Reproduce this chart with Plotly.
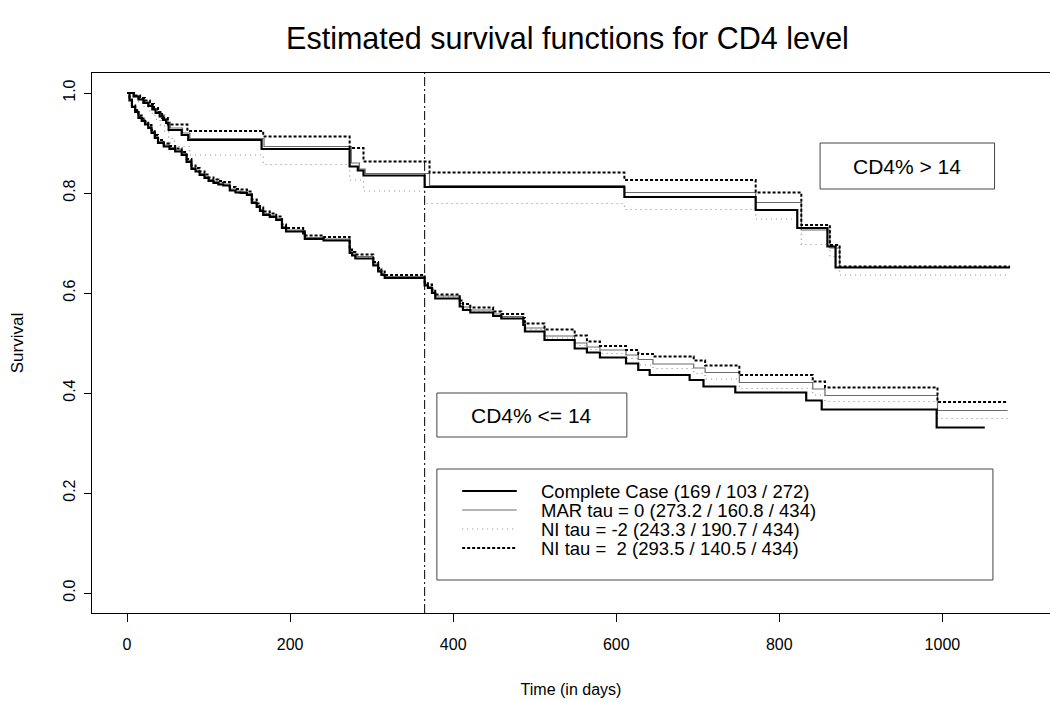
import plotly.graph_objects as go

# ---------------- data ----------------
# CD4% > 14 group (upper curves)
t_hi_cc = [0, 8, 14, 20, 26, 31, 35, 40, 44, 48, 51, 67, 75, 165, 273, 283, 290, 365, 610, 771, 822, 859, 869, 1083]
s_hi_cc = [1.0, 0.993, 0.987, 0.98, 0.974, 0.967, 0.96, 0.953, 0.946, 0.94, 0.926, 0.916, 0.906, 0.888, 0.853, 0.845, 0.835, 0.812, 0.792, 0.766, 0.73, 0.693, 0.651, 0.651]

t_hi_mar = [0, 9, 15, 21, 27, 32, 37, 42, 46, 50, 53, 68, 77, 168, 275, 285, 292, 371, 610, 771, 827, 862, 874, 1083]
s_hi_mar = [1.0, 0.994, 0.988, 0.982, 0.976, 0.969, 0.962, 0.956, 0.949, 0.942, 0.93, 0.92, 0.909, 0.893, 0.86, 0.848, 0.839, 0.815, 0.801, 0.781, 0.726, 0.69, 0.651, 0.651]

t_hi_m2 = [0, 8, 14, 20, 26, 31, 36, 41, 46, 51, 58, 77, 167, 273, 290, 365, 610, 771, 827, 862, 874, 1083]
s_hi_m2 = [1.0, 0.99, 0.982, 0.973, 0.964, 0.955, 0.945, 0.935, 0.923, 0.909, 0.893, 0.876, 0.857, 0.826, 0.804, 0.779, 0.767, 0.748, 0.697, 0.673, 0.636, 0.636]

t_hi_p2 = [0, 10, 16, 22, 28, 33, 38, 43, 50, 74, 167, 273, 290, 371, 610, 771, 827, 862, 874, 1083]
s_hi_p2 = [1.0, 0.995, 0.99, 0.985, 0.978, 0.97, 0.962, 0.95, 0.937, 0.924, 0.913, 0.89, 0.863, 0.841, 0.826, 0.801, 0.736, 0.696, 0.653, 0.653]

# CD4% <= 14 group (lower curves)
t_lo_cc = [0, 3, 6, 10, 14, 18, 22, 26, 30, 34, 38, 45, 52, 59, 67, 73, 79, 84, 89, 95, 100, 106, 112, 118,
           126, 133, 139, 147, 153, 159, 163, 167, 175, 183, 190, 195, 216, 218, 241, 273, 276, 280, 302,
           308, 312, 316, 365, 369, 374, 378, 408, 412, 421, 449, 459, 486, 488, 512, 549, 564, 580, 612,
           627, 641, 690, 707, 746, 833, 852, 993, 1052]
s_lo_cc = [1.0, 0.985, 0.972, 0.962, 0.95, 0.944, 0.937, 0.93, 0.92, 0.91, 0.9, 0.893, 0.888, 0.883, 0.876,
           0.862, 0.848, 0.843, 0.836, 0.83, 0.824, 0.82, 0.817, 0.815, 0.805, 0.801, 0.8, 0.796, 0.78,
           0.772, 0.764, 0.756, 0.752, 0.746, 0.73, 0.723, 0.719, 0.708, 0.705, 0.68, 0.675, 0.669, 0.655,
           0.643, 0.636, 0.63, 0.615, 0.61, 0.6, 0.589, 0.573, 0.566, 0.561, 0.554, 0.549, 0.536, 0.523,
           0.506, 0.489, 0.481, 0.471, 0.459, 0.446, 0.436, 0.426, 0.413, 0.401, 0.385, 0.367, 0.331, 0.331]

t_lo_mar = [0, 3, 6, 10, 14, 18, 22, 26, 30, 34, 38, 45, 52, 59, 67, 73, 79, 84, 89, 95, 100, 106, 112, 118,
            126, 133, 139, 147, 153, 159, 163, 167, 175, 183, 190, 195, 216, 218, 241, 273, 276, 280, 302,
            308, 312, 316, 365, 369, 374, 378, 408, 412, 421, 449, 459, 486, 488, 512, 549, 564, 580, 612,
            627, 645, 695, 709, 751, 841, 856, 994, 1080]
s_lo_mar = [1.0, 0.986, 0.974, 0.964, 0.953, 0.947, 0.94, 0.933, 0.923, 0.913, 0.903, 0.896, 0.891, 0.886,
            0.879, 0.865, 0.851, 0.846, 0.839, 0.833, 0.827, 0.823, 0.82, 0.818, 0.808, 0.804, 0.803, 0.799,
            0.783, 0.775, 0.767, 0.759, 0.755, 0.749, 0.733, 0.726, 0.722, 0.711, 0.708, 0.683, 0.678, 0.673,
            0.658, 0.646, 0.639, 0.633, 0.618, 0.613, 0.604, 0.594, 0.579, 0.572, 0.566, 0.558, 0.553, 0.545,
            0.53, 0.514, 0.5, 0.492, 0.486, 0.476, 0.467, 0.458, 0.45, 0.441, 0.421, 0.408, 0.395, 0.365, 0.365]

t_lo_m2 = [0, 3, 6, 10, 14, 18, 22, 26, 30, 34, 38, 45, 52, 59, 67, 73, 79, 84, 89, 95, 100, 106, 112, 118,
           126, 133, 139, 147, 153, 159, 163, 167, 175, 183, 190, 195, 216, 218, 241, 273, 276, 280, 302,
           308, 312, 316, 365, 369, 374, 378, 408, 412, 421, 449, 459, 486, 488, 512, 549, 564, 580, 612,
           627, 645, 695, 709, 751, 841, 856, 994, 1080]
s_lo_m2 = [1.0, 0.985, 0.973, 0.963, 0.952, 0.946, 0.939, 0.932, 0.922, 0.912, 0.902, 0.895, 0.89, 0.885,
           0.878, 0.864, 0.85, 0.845, 0.838, 0.832, 0.826, 0.822, 0.819, 0.817, 0.807, 0.803, 0.802, 0.798,
           0.782, 0.774, 0.766, 0.758, 0.754, 0.748, 0.732, 0.725, 0.721, 0.71, 0.707, 0.682, 0.677, 0.672,
           0.657, 0.645, 0.638, 0.632, 0.617, 0.612, 0.602, 0.592, 0.576, 0.569, 0.563, 0.555, 0.55, 0.54,
           0.527, 0.51, 0.495, 0.487, 0.479, 0.469, 0.456, 0.449, 0.439, 0.428, 0.409, 0.396, 0.383, 0.349, 0.349]

t_lo_p2 = [0, 3, 6, 10, 14, 18, 22, 26, 30, 34, 38, 45, 52, 59, 67, 73, 79, 84, 89, 95, 100, 106, 112, 118,
           126, 133, 139, 147, 153, 159, 163, 167, 175, 183, 190, 195, 216, 218, 241, 273, 276, 280, 302,
           308, 312, 316, 365, 369, 374, 378, 408, 412, 421, 449, 459, 486, 488, 512, 549, 564, 580, 612,
           627, 645, 695, 709, 751, 841, 856, 994, 1080]
s_lo_p2 = [1.0, 0.987, 0.975, 0.966, 0.955, 0.949, 0.943, 0.936, 0.926, 0.916, 0.906, 0.899, 0.894, 0.889,
           0.882, 0.868, 0.855, 0.85, 0.843, 0.837, 0.831, 0.827, 0.824, 0.822, 0.812, 0.808, 0.807, 0.803,
           0.787, 0.779, 0.771, 0.763, 0.759, 0.753, 0.737, 0.73, 0.726, 0.715, 0.712, 0.687, 0.682, 0.677,
           0.662, 0.65, 0.643, 0.636, 0.622, 0.617, 0.607, 0.597, 0.585, 0.578, 0.571, 0.563, 0.558, 0.55,
           0.539, 0.527, 0.515, 0.503, 0.494, 0.486, 0.478, 0.473, 0.465, 0.455, 0.436, 0.423, 0.411, 0.382, 0.382]

series_names = [
    "Complete Case (169 / 103 / 272)",
    "MAR tau = 0 (273.2 / 160.8 / 434)",
    "NI tau = -2 (243.3 / 190.7 / 434)",
    "NI tau =  2 (293.5 / 140.5 / 434)",
]
x_ticks = [0, 200, 400, 600, 800, 1000]
y_ticks = [0.0, 0.2, 0.4, 0.6, 0.8, 1.0]
cutoff_day = 365

# ---------------- styles ----------------
styles = [
    dict(color="black", width=2.2, dash="solid"),
    dict(color="#6a6a6a", width=1.2, dash="solid"),
    dict(color="#8a8a8a", width=1.2, dash="1px,4px"),
    dict(color="black", width=2, dash="3px,2px"),
]

fig = go.Figure()
hi = [(t_hi_cc, s_hi_cc), (t_hi_mar, s_hi_mar), (t_hi_m2, s_hi_m2), (t_hi_p2, s_hi_p2)]
lo = [(t_lo_cc, s_lo_cc), (t_lo_mar, s_lo_mar), (t_lo_m2, s_lo_m2), (t_lo_p2, s_lo_p2)]
order = [2, 1, 3, 0]  # draw light lines first
for i in order:
    for j, (t, s) in enumerate([hi[i], lo[i]]):
        fig.add_trace(go.Scatter(
            x=t, y=s, mode="lines", line_shape="hv", line=styles[i],
            name=series_names[i], legendgroup=str(i), showlegend=False,
            hoverinfo="skip"))

W, H = 1050, 702
L, R, T, B = 92, 1050, 73, 613
font = "Liberation Sans, Arial, sans-serif"

fig.add_vline(x=cutoff_day, line=dict(color="black", width=1, dash="9px,3px,2px,3px"))

# label boxes
def box(x0, x1, y0, y1, text, size):
    fig.add_shape(type="rect", x0=x0, x1=x1, y0=y0, y1=y1, xref="x", yref="y",
                  line=dict(color="#444", width=1), fillcolor="white", layer="above")
    fig.add_annotation(x=(x0 + x1) / 2, y=(y0 + y1) / 2, text=text, showarrow=False,
                       font=dict(size=size, color="black", family=font), xref="x", yref="y")

box(850, 1064, 0.808, 0.9, "CD4% > 14", 21)
box(380, 613, 0.312, 0.4, "CD4% <= 14", 21)

# legend: frame, line samples and labels
fig.add_shape(type="rect", x0=380, x1=1062, y0=0.026, y1=0.248, xref="x", yref="y",
              line=dict(color="#444", width=1), fillcolor="rgba(0,0,0,0)")
leg_rows = [0.204, 0.166, 0.128, 0.09]
for i in range(4):
    fig.add_shape(type="line", x0=411, x1=478, y0=leg_rows[i], y1=leg_rows[i], xref="x", yref="y",
                  line=styles[i])
    fig.add_annotation(x=505, y=leg_rows[i], text=series_names[i].replace("  ", "&nbsp; "),
                       showarrow=False, xanchor="left", yanchor="middle", xref="x", yref="y",
                       font=dict(size=18.5, color="black", family=font))

fig.update_layout(
    width=W, height=H,
    paper_bgcolor="white", plot_bgcolor="white",
    margin=dict(l=L, r=W - R, t=T, b=H - B),
    font=dict(family=font, color="black", size=15),
    title=dict(text="Estimated survival functions for CD4 level", x=(L + 1043) / 2 / W, xanchor="center",
               y=1 - 38 / H, yanchor="middle", font=dict(size=30.5, family=font, color="black")),
    showlegend=False,
    xaxis=dict(range=[-43, 1132], tickvals=x_ticks, ticks="outside", ticklen=8, tickcolor="black",
               showline=True, linecolor="black", linewidth=1, mirror=True, showgrid=False, zeroline=False,
               tickfont=dict(size=16), ticklabelstandoff=9,
               title=dict(text="Time (in days)", font=dict(size=16), standoff=31)),
    yaxis=dict(range=[-0.04, 1.04], tickvals=y_ticks, tickformat=".1f", ticks="outside", ticklen=7,
               tickcolor="black", showline=True, linecolor="black", linewidth=1, showgrid=False,
               zeroline=False, tickangle=-90, tickfont=dict(size=16), ticklabelstandoff=3,
               title=dict(text="Survival", font=dict(size=17), standoff=32)),
)

fig.write_html("out.html", config={"displayModeBar": False},
               post_script="document.body.style.margin='0';document.body.style.overflow='hidden';")
